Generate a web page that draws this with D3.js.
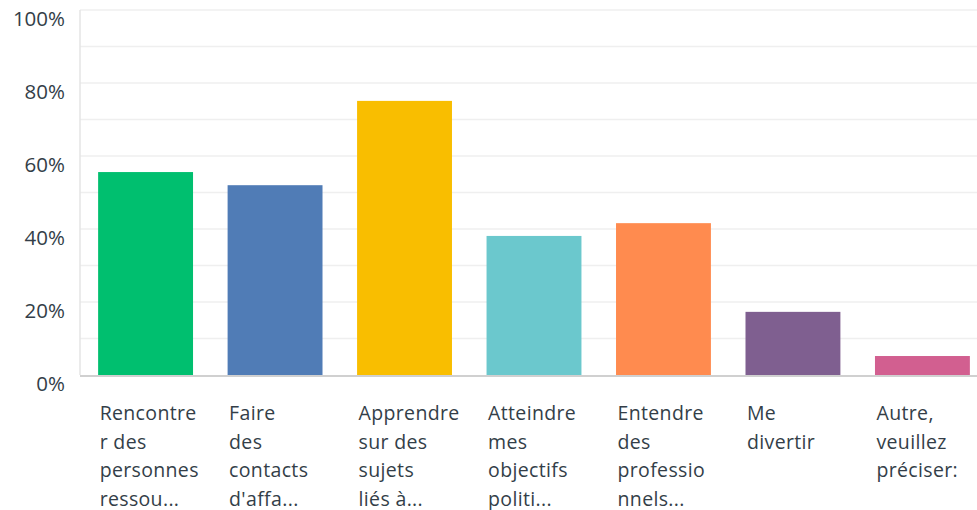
<!DOCTYPE html>
<html>
<head>
<meta charset="utf-8">
<script src="https://cdn.jsdelivr.net/npm/d3@7"></script>
<style>
  body { margin: 0; background: #fff; }
  svg { display: block; font-family: "Open Sans", sans-serif; }
</style>
</head>
<body>
<div id="chart"></div>
<script>
// Answer choices (labels already truncated in the original chart)
const categories = [
  ["Rencontre", "r des", "personnes", "ressou..."],
  ["Faire", "des", "contacts", "d'affa..."],
  ["Apprendre", "sur des", "sujets", "liés à..."],
  ["Atteindre", "mes", "objectifs", "politi..."],
  ["Entendre", "des", "professio", "nnels..."],
  ["Me", "divertir"],
  ["Autre,", "veuillez", "préciser:"]
];
const values = [55.6, 52.0, 75.1, 38.1, 41.6, 17.3, 5.2];
const colors = ["#00bf6f", "#507cb6", "#f9be00", "#6bc8cd", "#ff8b4f", "#7f5f90", "#d25f90"];
const yTicks = [0, 20, 40, 60, 80, 100];
const gridTicks = [10, 20, 30, 40, 50, 60, 70, 80, 90, 100];

const width = 977, height = 510;
const margin = { top: 10, left: 80, bottom: 135 };

const svg = d3.select('#chart').append('svg')
    .attr('width', width)
    .attr('height', height);

const y = d3.scaleLinear()
    .domain([0, 100])
    .range([height - margin.bottom, margin.top]);

const x = d3.scaleBand()
    .domain(d3.range(categories.length))
    .range([margin.left, 988])
    .paddingInner(0.267)
    .paddingOuter(0.14);

// Gridlines
svg.append('g')
  .selectAll('line')
    .data(gridTicks)
  .enter().append('line')
    .attr('x1', margin.left)
    .attr('x2', width)
    .attr('y1', d => y(d))
    .attr('y2', d => y(d))
    .attr('stroke', '#efefef')
    .attr('stroke-width', 1.5);

// Y axis line
svg.append('line')
    .attr('x1', margin.left).attr('x2', margin.left)
    .attr('y1', y(100)).attr('y2', y(0))
    .attr('stroke', '#e4e4e4')
    .attr('stroke-width', 1.5);

// Y tick labels
svg.append('g')
  .selectAll('text')
    .data(yTicks)
  .enter().append('text')
    .attr('x', 65)
    .attr('y', d => y(d) + 16)
    .attr('text-anchor', 'end')
    .attr('fill', '#333e48')
    .style('font-size', '20.5px')
    .text(d => d + '%');

// Bars
svg.append('g')
  .selectAll('rect')
    .data(values)
  .enter().append('rect')
    .attr('x', (d, i) => x(i))
    .attr('y', d => y(d))
    .attr('width', x.bandwidth())
    .attr('height', d => y(0) - y(d))
    .attr('fill', (d, i) => colors[i]);

// Baseline
svg.append('line')
    .attr('x1', margin.left).attr('x2', width)
    .attr('y1', y(0) + 1).attr('y2', y(0) + 1)
    .attr('stroke', '#d0d0d0')
    .attr('stroke-width', 2);

// Category labels
const labels = svg.append('g')
  .selectAll('text')
    .data(categories)
  .enter().append('text')
    .attr('x', (d, i) => x(i) + 1.5)
    .attr('y', y(0) + 45)
    .attr('fill', '#333e48')
    .style('font-size', '19.5px')
    .style('letter-spacing', '0.35px');

labels.selectAll('tspan')
    .data(d => d)
  .enter().append('tspan')
    .attr('x', function() { return d3.select(this.parentNode).attr('x'); })
    .attr('dy', (d, i) => i === 0 ? 0 : 28.5)
    .text(d => d);
</script>
</body>
</html>
